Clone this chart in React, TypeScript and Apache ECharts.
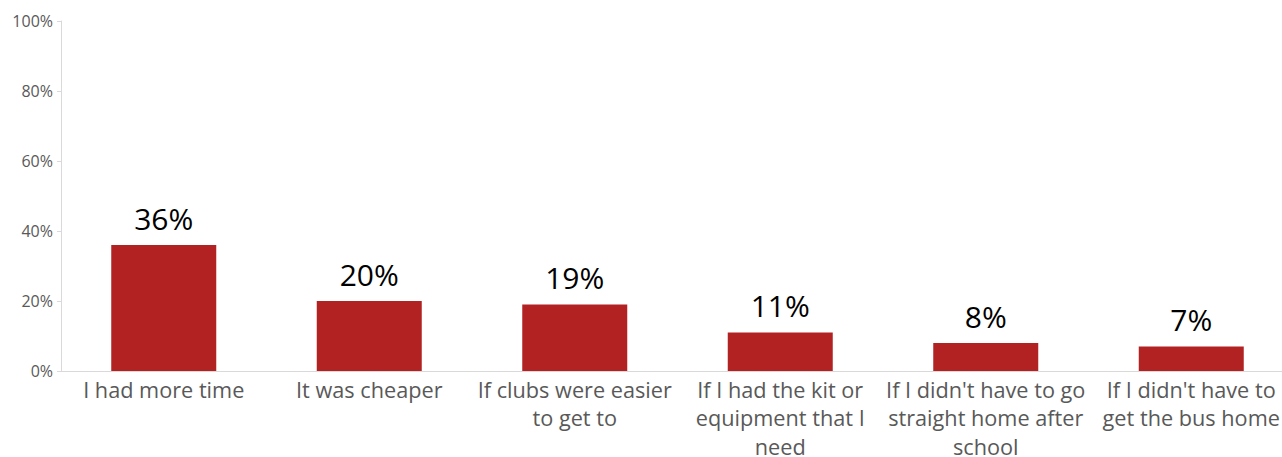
import React, { useEffect, useRef } from "react";
import * as echarts from "echarts";

const categories = [
  "I had more time",
  "It was cheaper",
  "If clubs were easier\nto get to",
  "If I had the kit or\nequipment that I\nneed",
  "If I didn't have to go\nstraight home after\nschool",
  "If I didn't have to\nget the bus home",
];
const values = [36, 20, 19, 11, 8, 7];
const yTicks = [0, 20, 40, 60, 80, 100];

export default function App() {
  const ref = useRef<HTMLDivElement>(null);
  useEffect(() => {
    if (!ref.current) return;
    const chart = echarts.init(ref.current, undefined, { renderer: "svg" });
    chart.setOption({
      animation: false,
      textStyle: { fontFamily: "Open Sans" },
      grid: {
        left: 61,
        top: 21,
        width: 1233,
        height: 350,
        containLabel: false,
        outerBoundsMode: "none",
      },
      xAxis: {
        type: "category",
        data: categories,
        axisLine: { lineStyle: { color: "#d9d9d9", width: 1 } },
        axisTick: { show: false },
        axisLabel: {
          color: "#595959",
          fontSize: 21.7,
          fontFamily: "Open Sans",
          lineHeight: 28.5,
          margin: 4,
          interval: 0,
        },
        z: 3,
      },
      yAxis: {
        type: "value",
        min: yTicks[0],
        max: yTicks[yTicks.length - 1],
        interval: 20,
        axisLine: { show: true, lineStyle: { color: "#d9d9d9" } },
        axisTick: { show: true, length: 4, lineStyle: { color: "#d9d9d9" } },
        splitLine: { show: false },
        axisLabel: {
          color: "#595959",
          fontSize: 16,
          fontFamily: "Open Sans",
          margin: 8,
          formatter: (v: number) => v + "%",
        },
      },
      series: [
        {
          type: "bar",
          data: values,
          barWidth: 105,
          itemStyle: { color: "#b22222" },
          label: {
            show: true,
            position: "top",
            distance: 12,
            color: "#000000",
            fontSize: 30,
            fontFamily: "Open Sans",
            formatter: (p: any) => p.value + "%",
          },
        },
      ],
    });
    return () => chart.dispose();
  }, []);
  return (
    <div
      ref={ref}
      style={{
        position: "fixed",
        left: 0,
        top: 0,
        width: 1282,
        height: 457,
        overflow: "hidden",
        background: "#fff",
      }}
    />
  );
}
